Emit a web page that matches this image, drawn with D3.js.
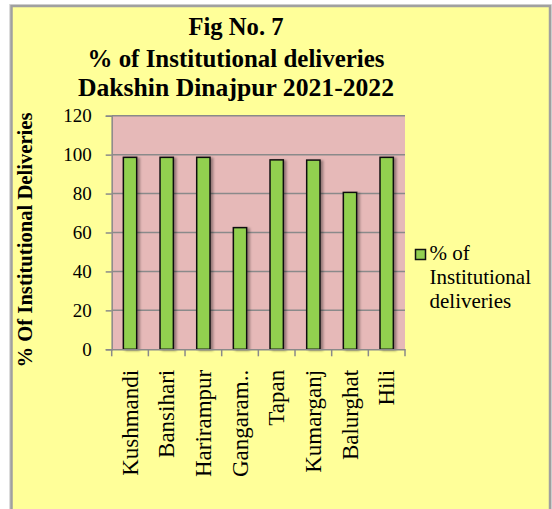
<!DOCTYPE html>
<html>
<head>
<meta charset="utf-8">
<script src="https://cdn.jsdelivr.net/npm/d3@7"></script>
<style>
  html, body { margin: 0; padding: 0; background: #ffffff; }
  svg { display: block; }
  text { font-family: "Liberation Serif", "Times New Roman", serif; fill: #000; }
</style>
</head>
<body>
<svg id="chart" width="552" height="509"></svg>
<script>
// ---- data ----
const categories = ["Kushmandi", "Bansihari", "Harirampur", "Gangaram..", "Tapan", "Kumarganj", "Balurghat", "Hili"];
const values = [98.6, 98.6, 98.6, 62.5, 97.3, 97.2, 80.6, 98.6];
const yTicks = [0, 20, 40, 60, 80, 100, 120];
const titleLines = ["Fig No. 7", "% of Institutional deliveries", "Dakshin Dinajpur 2021-2022"];
const yAxisTitle = "% Of Institutional Deliveries";
const legendLines = ["% of", "Institutional", "deliveries"];

// ---- layout ----
const W = 552, H = 509;
const plot = { left: 111.7, right: 405, top: 115.7, bottom: 349.3 };
const svg = d3.select("#chart");

const defs = svg.append("defs");
const f = defs.append("filter").attr("id", "shadow").attr("x", "-50%").attr("y", "-10%").attr("width", "200%").attr("height", "120%");
f.append("feDropShadow").attr("dx", 2.5).attr("dy", 1).attr("stdDeviation", 1.3).attr("flood-color", "#000").attr("flood-opacity", 0.35);

// outer chart area
svg.append("rect").attr("x", 9).attr("y", 4).attr("width", 543).attr("height", 520).attr("fill", "#dcdcdc");
svg.append("rect").attr("x", 11.5).attr("y", 6).attr("width", 538.5).attr("height", 520)
  .attr("fill", "#FFFF99").attr("stroke", "#a0a0a0").attr("stroke-width", 2.5);

// scales
const x = d3.scaleBand().domain(categories).range([plot.left, plot.right])
  .paddingInner(0.637).paddingOuter(0.3185);
const y = d3.scaleLinear().domain([0, 120]).range([plot.bottom, plot.top]);

// plot background
svg.append("rect").attr("x", plot.left).attr("y", y(120)).attr("width", plot.right - plot.left)
  .attr("height", y(0) - y(120)).attr("fill", "#E6B9B8");

// gridlines
svg.append("g").selectAll("line").data(yTicks.filter(d => d > 0)).join("line")
  .attr("x1", plot.left).attr("x2", plot.right)
  .attr("y1", d => y(d)).attr("y2", d => y(d))
  .attr("stroke", "#8a8a8a").attr("stroke-width", 1.5);

// bars
svg.append("g").selectAll("rect").data(values).join("rect")
  .attr("x", (d, i) => x(categories[i]))
  .attr("y", d => y(d))
  .attr("width", x.bandwidth())
  .attr("height", d => y(0) - y(d))
  .attr("fill", "#92D050")
  .attr("stroke", "#111").attr("stroke-width", 1.5)
  .attr("filter", "url(#shadow)");

// y axis
const yAxis = svg.append("g").attr("transform", `translate(${plot.left},0)`)
  .call(d3.axisLeft(y).tickValues(yTicks).tickSize(6).tickPadding(14).tickFormat(d3.format("d")));
yAxis.select(".domain").attr("stroke", "#8a8a8a").attr("stroke-width", 1.5);
yAxis.selectAll(".tick line").attr("stroke", "#8a8a8a").attr("stroke-width", 1.5);
yAxis.selectAll(".tick text").style("font-family", "'Liberation Serif', serif").style("font-size", "19px").attr("fill", "#000");

// x axis
const xAxis = svg.append("g").attr("transform", `translate(0,${plot.bottom})`)
  .call(d3.axisBottom(x).tickSize(0).tickPadding(0));
xAxis.select(".domain").attr("stroke", "#8a8a8a").attr("stroke-width", 1.5);
xAxis.selectAll(".tick text")
  .attr("transform", "rotate(-90)")
  .attr("x", -20.5).attr("y", 0).attr("dy", "0.33em")
  .attr("text-anchor", "end")
  .style("font-family", "'Liberation Serif', serif").style("font-size", "23px").attr("fill", "#000");
// boundary ticks
const step = x.step();
const boundaries = categories.map(c => x(c) - (step - x.bandwidth()) / 2).concat([plot.right]);
xAxis.append("g").selectAll("line").data(boundaries).join("line")
  .attr("x1", d => d).attr("x2", d => d).attr("y1", 0).attr("y2", 7)
  .attr("stroke", "#8a8a8a").attr("stroke-width", 1.5);

// title
const titleBase = [34.5, 67, 95.5];
const titleLen = [95, 297, 316];
svg.append("g").selectAll("text").data(titleLines).join("text")
  .attr("x", 236).attr("y", (d, i) => titleBase[i])
  .attr("text-anchor", "middle")
  .attr("textLength", (d, i) => titleLen[i]).attr("lengthAdjust", "spacingAndGlyphs")
  .style("font-size", "25.5px").style("font-weight", "bold")
  .text(d => d);

// y axis title
svg.append("text")
  .attr("transform", "translate(32,240) rotate(-90)")
  .attr("text-anchor", "middle")
  .attr("textLength", 255).attr("lengthAdjust", "spacingAndGlyphs")
  .style("font-size", "22px").style("font-weight", "bold")
  .text(yAxisTitle);

// legend
svg.append("rect").attr("x", 415.5).attr("y", 249.5).attr("width", 10).attr("height", 10)
  .attr("fill", "#92D050").attr("stroke", "#111").attr("stroke-width", 1.5);
const legBase = [260, 283.5, 307.5];
svg.append("g").selectAll("text").data(legendLines).join("text")
  .attr("x", 429.5).attr("y", (d, i) => legBase[i])
  .style("font-size", "21px")
  .text(d => d);
</script>
</body>
</html>
